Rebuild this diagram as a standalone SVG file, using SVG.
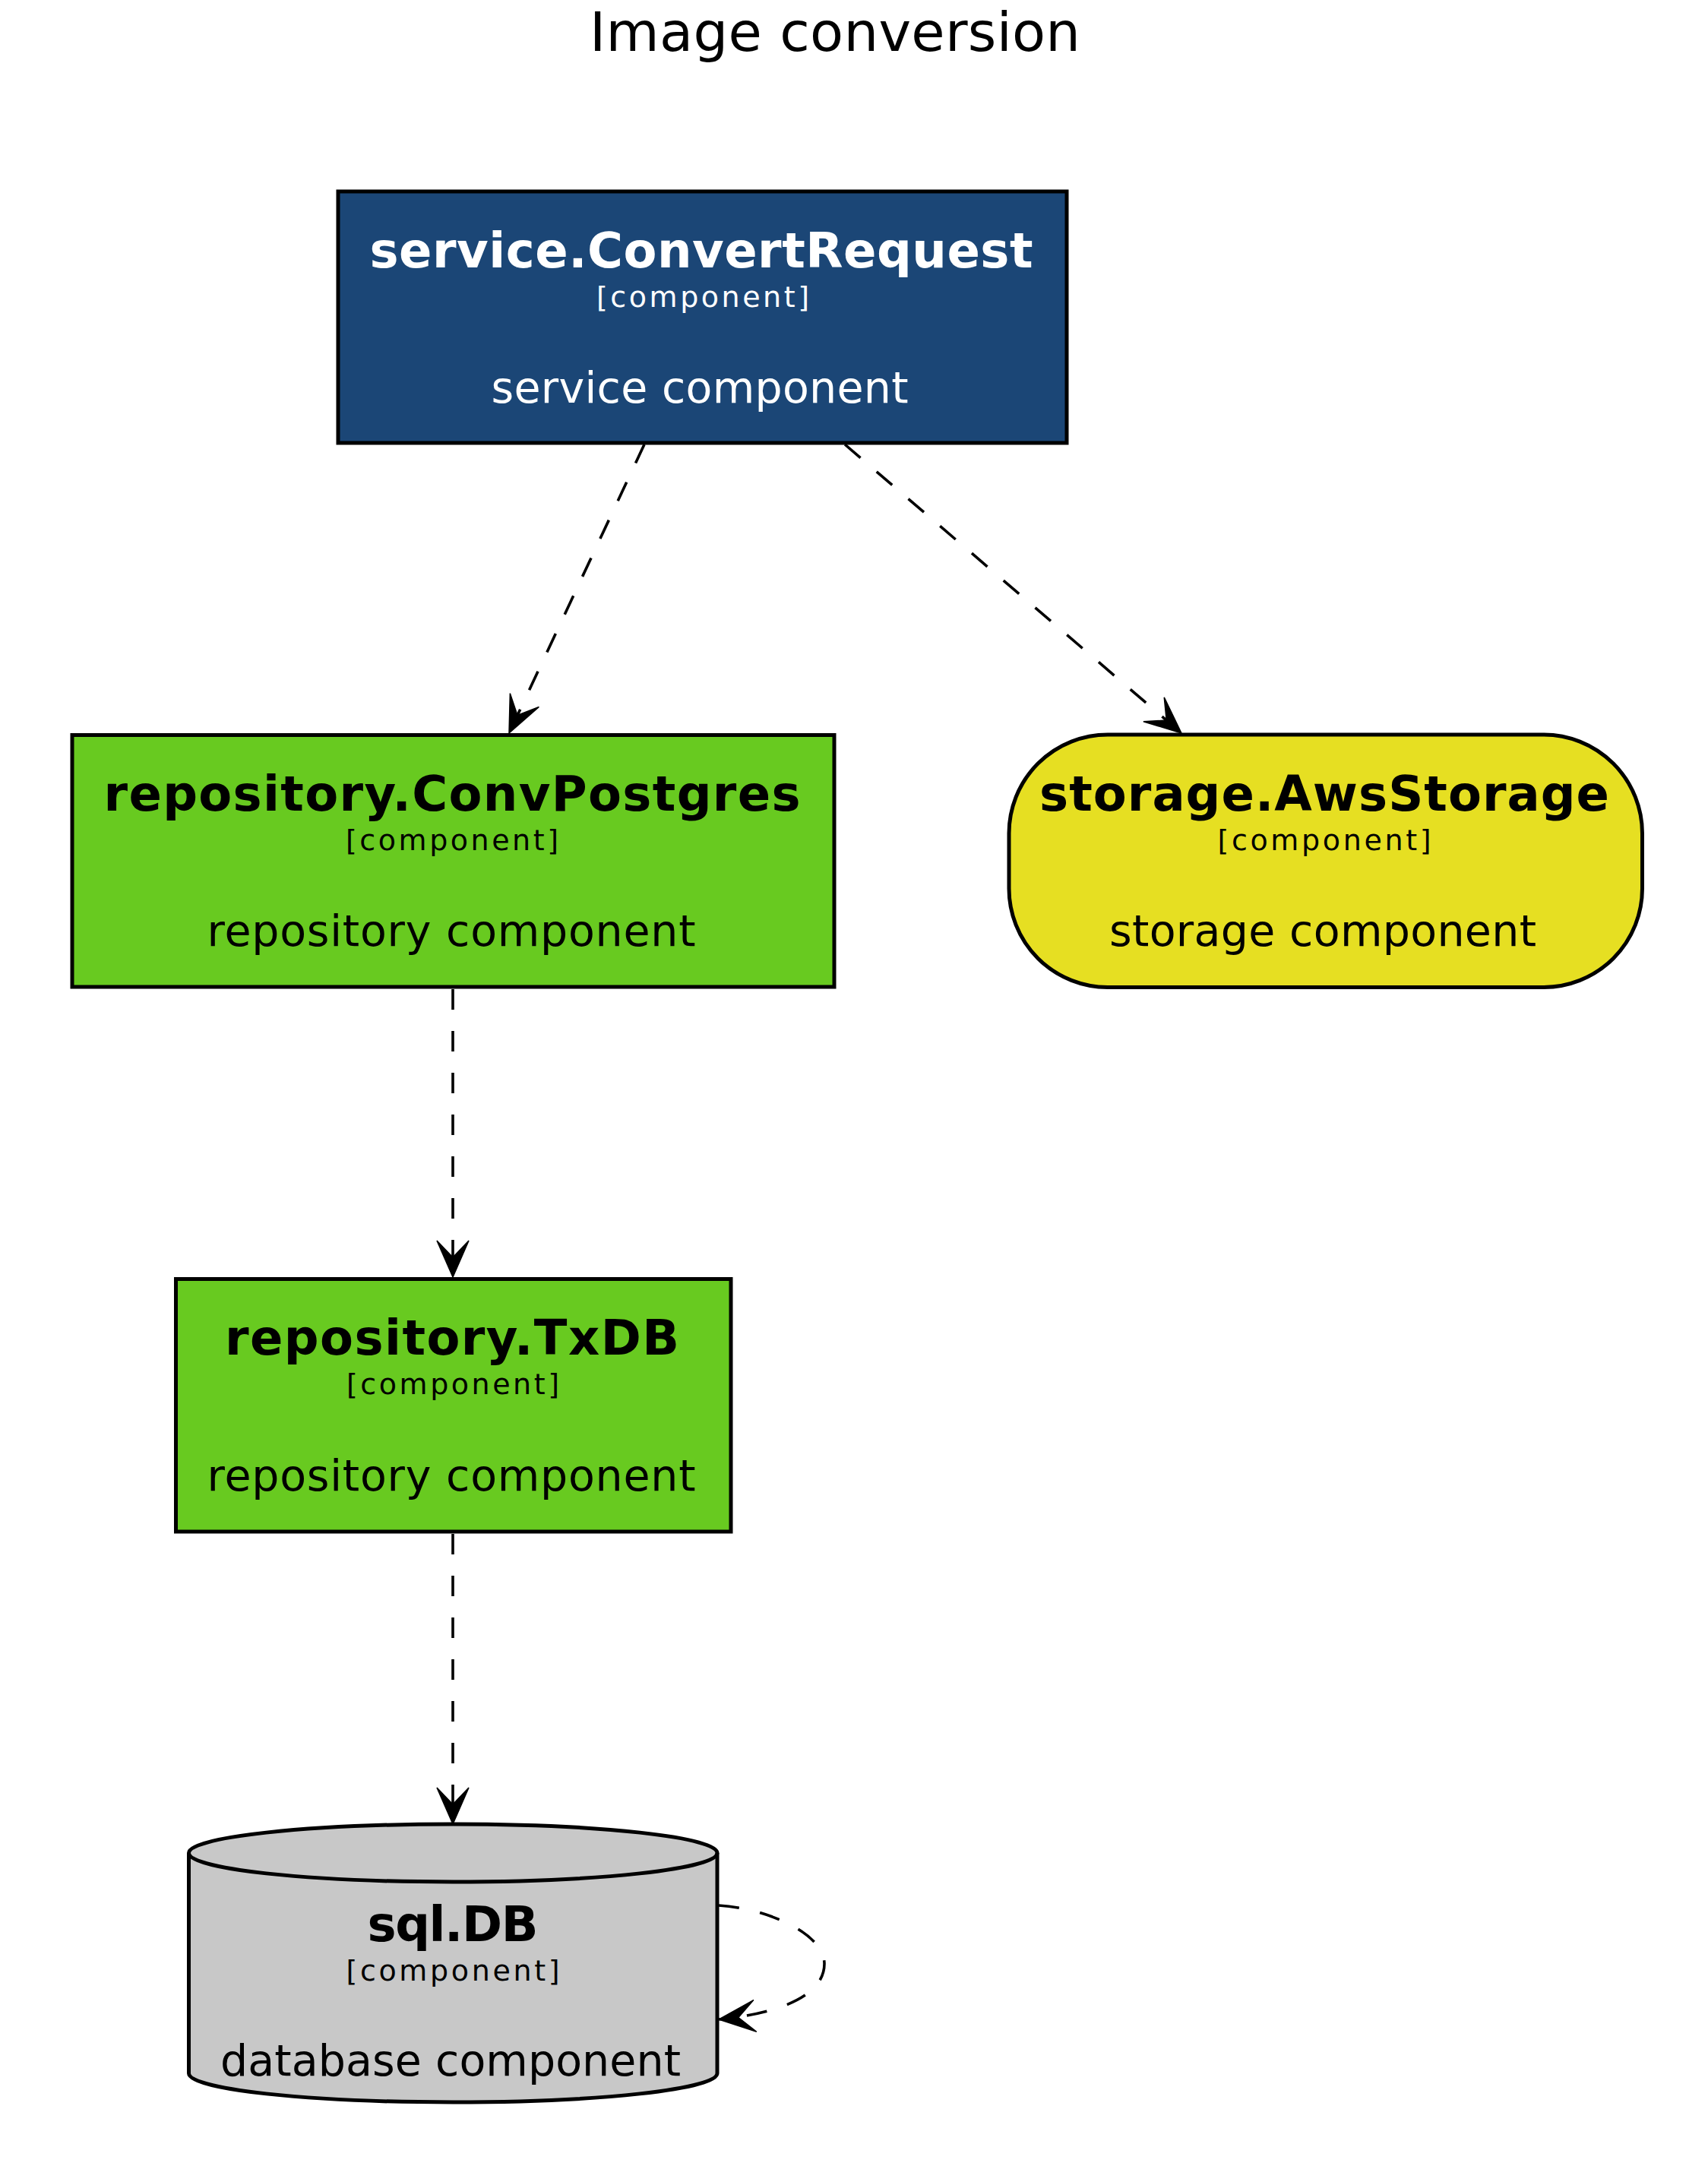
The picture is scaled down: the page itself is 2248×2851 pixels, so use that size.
<svg xmlns="http://www.w3.org/2000/svg" width="2248" height="2851" viewBox="0 0 2248 2851">
<style>
text{font-family:"DejaVu Sans","Liberation Sans",sans-serif;text-anchor:middle}
.title{font-size:72px;fill:#000}
.nm{font-size:64px;font-weight:bold}
.st{font-size:38px}
.ds{font-size:57px}
.w{fill:#fff}
.b{fill:#000}
.node{stroke:#000;stroke-width:5}
.edge{fill:none;stroke:#000;stroke-width:3.6;stroke-dasharray:27 28}
</style>
<defs>
<marker id="vee" viewBox="-52 -26 56 52" refX="0" refY="0" markerWidth="56" markerHeight="52" markerUnits="userSpaceOnUse" orient="auto">
<path d="M0,0 L-48,-21 L-26,0 L-48,21 Z" fill="#000" stroke="#000" stroke-width="1.5" stroke-linejoin="miter"/>
</marker>
</defs>
<rect x="0" y="0" width="2248" height="2851" fill="#fff"/>
<text class="title" x="1099" y="67" textLength="646" lengthAdjust="spacing">Image conversion</text>

<g id="edges">
<path class="edge" d="M848,585 L670,965" marker-end="url(#vee)"/>
<path class="edge" d="M1112,585 L1555,965" marker-end="url(#vee)"/>
<path class="edge" d="M596,1302 L596,1681" marker-end="url(#vee)"/>
<path class="edge" d="M596,2019 L596,2401" marker-end="url(#vee)"/>
<path class="edge" d="M946,2508 C1010,2512 1085,2545 1085,2585 C1085,2625 1030,2650 946,2658" marker-end="url(#vee)"/>
</g>

<g id="service.ConvertRequest">
<rect class="node" x="445" y="252" width="959" height="331" fill="#1b4676"/>
<text class="nm w" x="923" y="352" textLength="873" lengthAdjust="spacing">service.ConvertRequest</text>
<text class="st w" x="925" y="404" textLength="280" lengthAdjust="spacing">[component]</text>
<text class="ds w" x="921" y="530" textLength="549" lengthAdjust="spacing">service component</text>
</g>

<g id="repository.ConvPostgres">
<rect class="node" x="95" y="967.5" width="1003" height="331.5" fill="#68ca20"/>
<text class="nm b" x="595" y="1067" textLength="917" lengthAdjust="spacing">repository.ConvPostgres</text>
<text class="st b" x="595" y="1119" textLength="280" lengthAdjust="spacing">[component]</text>
<text class="ds b" x="594" y="1245" textLength="643" lengthAdjust="spacing">repository component</text>
</g>

<g id="storage.AwsStorage">
<rect class="node" x="1328" y="967" width="833.5" height="332.5" rx="130" ry="130" fill="#e6df22"/>
<text class="nm b" x="1743" y="1067" textLength="750" lengthAdjust="spacing">storage.AwsStorage</text>
<text class="st b" x="1743" y="1119" textLength="281" lengthAdjust="spacing">[component]</text>
<text class="ds b" x="1741" y="1245" textLength="562" lengthAdjust="spacing">storage component</text>
</g>

<g id="repository.TxDB">
<rect class="node" x="231.5" y="1683.5" width="730.5" height="332.5" fill="#68ca20"/>
<text class="nm b" x="595" y="1783" textLength="598" lengthAdjust="spacing">repository.TxDB</text>
<text class="st b" x="596" y="1835" textLength="280" lengthAdjust="spacing">[component]</text>
<text class="ds b" x="594" y="1962" textLength="643" lengthAdjust="spacing">repository component</text>
</g>

<g id="sql.DB">
<path class="node" fill="#c8c8c8" d="M248.5,2439 A347.75,38 0 0 1 944,2439 L944,2729 A347.75,38 0 0 1 248.5,2729 Z"/>
<path class="node" fill="none" d="M944,2439 A347.75,38 0 0 1 248.5,2439"/>
<text class="nm b" x="596" y="2555" textLength="225" lengthAdjust="spacing">sql.DB</text>
<text class="st b" x="596" y="2607" textLength="281" lengthAdjust="spacing">[component]</text>
<text class="ds b" x="593" y="2732" textLength="606" lengthAdjust="spacing">database component</text>
</g>
</svg>
